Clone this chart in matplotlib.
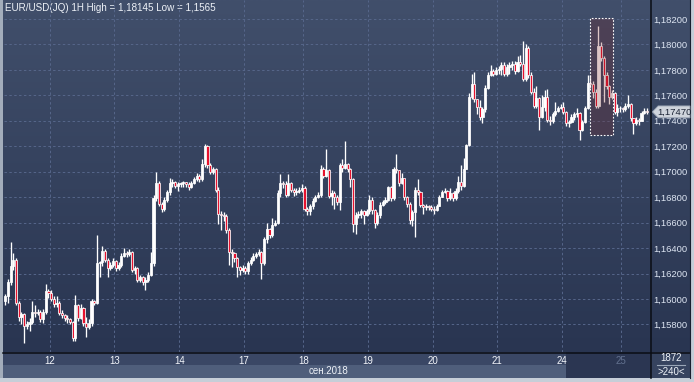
import numpy as np
import matplotlib
matplotlib.use('Agg')
import matplotlib.pyplot as plt
from matplotlib.patches import Rectangle, Polygon
import matplotlib.transforms as mtransforms

plt.rcParams['font.family'] = ['Liberation Sans', 'DejaVu Sans']

# ---------------- data ----------------
title = "EUR/USD(JQ) 1H High = 1,18145 Low = 1,1565"
first_open = 1.1598
close = [
    1.1602, 1.1613, 1.1626, 1.1631, 1.1597, 1.1586, 1.1588, 1.1579, 1.1580, 1.1582,
    1.1590, 1.1589, 1.1590, 1.1584, 1.1590, 1.1606, 1.1605, 1.1600, 1.1596, 1.1597,
    1.1589, 1.1587, 1.1585, 1.1584, 1.1582, 1.1569, 1.1595, 1.1585, 1.1593, 1.1581,
    1.1578, 1.1581, 1.1598, 1.1597, 1.1628, 1.1629, 1.1638, 1.1631, 1.1624, 1.1627,
    1.1630, 1.1624, 1.1627, 1.1634, 1.1636, 1.1635, 1.1637, 1.1623, 1.1624, 1.1615,
    1.1617, 1.1613, 1.1615, 1.1619, 1.1628, 1.1679, 1.1691, 1.1675, 1.1671, 1.1678,
    1.1684, 1.1691, 1.1692, 1.1689, 1.1690, 1.1691, 1.1692, 1.1690, 1.1688, 1.1691,
    1.1694, 1.1697, 1.1694, 1.1706, 1.1720, 1.1705, 1.1700, 1.1702, 1.1686, 1.1667,
    1.1666, 1.1665, 1.1654, 1.1637, 1.1636, 1.1632, 1.1625, 1.1623, 1.1624, 1.1622,
    1.1628, 1.1631, 1.1634, 1.1635, 1.1637, 1.1628, 1.1647, 1.1655, 1.1650, 1.1658,
    1.1660, 1.1683, 1.1691, 1.1690, 1.1682, 1.1691, 1.1686, 1.1684, 1.1685, 1.1686,
    1.1687, 1.1671, 1.1669, 1.1673, 1.1677, 1.1680, 1.1682, 1.1702, 1.1697, 1.1701,
    1.1681, 1.1683, 1.1680, 1.1676, 1.1705, 1.1703, 1.1706, 1.1702, 1.1694, 1.1659,
    1.1666, 1.1667, 1.1669, 1.1666, 1.1669, 1.1678, 1.1670, 1.1660, 1.1666, 1.1674,
    1.1676, 1.1678, 1.1688, 1.1679, 1.1702, 1.1701, 1.1691, 1.1695, 1.1680, 1.1675,
    1.1662, 1.1668, 1.1686, 1.1684, 1.1674, 1.1672, 1.1673, 1.1672, 1.1671, 1.1670,
    1.1673, 1.1680, 1.1684, 1.1685, 1.1679, 1.1683, 1.1679, 1.1685, 1.1692, 1.1689,
    1.1702, 1.1721, 1.1759, 1.1769, 1.1757, 1.1751, 1.1743, 1.1749, 1.1766, 1.1776,
    1.1779, 1.1777, 1.1780, 1.1781, 1.1784, 1.1777, 1.1782, 1.1784, 1.1785, 1.1779,
    1.1786, 1.1785, 1.1773, 1.1797, 1.1776, 1.1763, 1.1752, 1.1758, 1.1743, 1.1751,
    1.1759, 1.1741, 1.1740, 1.1745, 1.1748, 1.1750, 1.1751, 1.1747, 1.1738, 1.1739,
    1.1743, 1.1745, 1.1746, 1.1733, 1.1739, 1.1750, 1.1770, 1.1769, 1.1763, 1.1752,
    1.1799, 1.1789, 1.1776, 1.1767, 1.1759, 1.1762, 1.1747, 1.1750, 1.1750, 1.1749,
    1.1752, 1.1753, 1.1742, 1.1738, 1.1741, 1.1740, 1.1746, 1.1748, 1.1747,
]
high = [
    1.1604, 1.1616, 1.1645, 1.1636, 1.1632, 1.1598, 1.1590, 1.1589, 1.1583, 1.1585,
    1.1598, 1.1595, 1.1592, 1.1591, 1.1592, 1.1612, 1.1608, 1.1607, 1.1602, 1.1602,
    1.1598, 1.1591, 1.1588, 1.1587, 1.1585, 1.1583, 1.1603, 1.1596, 1.1596, 1.1594,
    1.1586, 1.1584, 1.1600, 1.1599, 1.1650, 1.1630, 1.1642, 1.1639, 1.1632, 1.1629,
    1.1632, 1.1631, 1.1629, 1.1636, 1.1640, 1.1638, 1.1639, 1.1638, 1.1626, 1.1625,
    1.1619, 1.1618, 1.1617, 1.1621, 1.1637, 1.1682, 1.1700, 1.1693, 1.1676, 1.1680,
    1.1686, 1.1695, 1.1694, 1.1693, 1.1692, 1.1692, 1.1693, 1.1692, 1.1692, 1.1693,
    1.1696, 1.1699, 1.1698, 1.1710, 1.1722, 1.1721, 1.1707, 1.1704, 1.1703, 1.1688,
    1.1669, 1.1668, 1.1667, 1.1656, 1.1639, 1.1637, 1.1633, 1.1626, 1.1627, 1.1626,
    1.1630, 1.1633, 1.1636, 1.1637, 1.1639, 1.1638, 1.1649, 1.1660, 1.1656, 1.1664,
    1.1662, 1.1686, 1.1698, 1.1693, 1.1693, 1.1698, 1.1692, 1.1687, 1.1687, 1.1688,
    1.1690, 1.1689, 1.1672, 1.1675, 1.1679, 1.1682, 1.1684, 1.1705, 1.1704, 1.1718,
    1.1702, 1.1686, 1.1685, 1.1682, 1.1707, 1.1710, 1.1724, 1.1707, 1.1703, 1.1695,
    1.1668, 1.1669, 1.1671, 1.1670, 1.1671, 1.1682, 1.1680, 1.1671, 1.1668, 1.1676,
    1.1678, 1.1680, 1.1689, 1.1689, 1.1704, 1.1714, 1.1700, 1.1699, 1.1694, 1.1681,
    1.1676, 1.1670, 1.1688, 1.1694, 1.1685, 1.1675, 1.1675, 1.1674, 1.1674, 1.1673,
    1.1675, 1.1682, 1.1686, 1.1687, 1.1686, 1.1687, 1.1684, 1.1687, 1.1697, 1.1705,
    1.1711, 1.1722, 1.1762, 1.1777, 1.1778, 1.1757, 1.1756, 1.1751, 1.1768, 1.1778,
    1.1784, 1.1781, 1.1782, 1.1783, 1.1786, 1.1786, 1.1785, 1.1786, 1.1787, 1.1787,
    1.1791, 1.1792, 1.1803, 1.1800, 1.1799, 1.1778, 1.1766, 1.1767, 1.1759, 1.1760,
    1.1764, 1.1765, 1.1744, 1.1747, 1.1755, 1.1752, 1.1753, 1.1755, 1.1748, 1.1741,
    1.1745, 1.1747, 1.1750, 1.1747, 1.1741, 1.1752, 1.1776, 1.1776, 1.1771, 1.1765,
    1.18145, 1.1802, 1.1791, 1.1778, 1.1768, 1.1764, 1.1763, 1.1753, 1.1752, 1.1751,
    1.1754, 1.1760, 1.1754, 1.1742, 1.1743, 1.1742, 1.1748, 1.1750, 1.1750,
]
low = [
    1.1595, 1.1597, 1.1611, 1.1623, 1.1595, 1.1583, 1.1580, 1.1565, 1.1576, 1.1575,
    1.1580, 1.1586, 1.1587, 1.1582, 1.1581, 1.1588, 1.1601, 1.1598, 1.1594, 1.1594,
    1.1587, 1.1585, 1.1583, 1.1581, 1.1580, 1.1567, 1.1567, 1.1583, 1.1584, 1.1579,
    1.1570, 1.1576, 1.1579, 1.1595, 1.1596, 1.1617, 1.1626, 1.1629, 1.1617, 1.1623,
    1.1625, 1.1622, 1.1623, 1.1625, 1.1633, 1.1633, 1.1634, 1.1621, 1.1620, 1.1613,
    1.1613, 1.1611, 1.1607, 1.1613, 1.1618, 1.1626, 1.1677, 1.1673, 1.1668, 1.1669,
    1.1676, 1.1682, 1.1688, 1.1687, 1.1685, 1.1688, 1.1688, 1.1688, 1.1686, 1.1687,
    1.1690, 1.1693, 1.1692, 1.1693, 1.1704, 1.1703, 1.1698, 1.1698, 1.1684, 1.1659,
    1.1654, 1.1661, 1.1652, 1.1627, 1.1625, 1.1629, 1.1617, 1.1619, 1.1621, 1.1620,
    1.1620, 1.1627, 1.1630, 1.1632, 1.1634, 1.1616, 1.1627, 1.1644, 1.1648, 1.1649,
    1.1657, 1.1659, 1.1680, 1.1687, 1.1680, 1.1681, 1.1684, 1.1681, 1.1682, 1.1683,
    1.1684, 1.1669, 1.1666, 1.1666, 1.1671, 1.1676, 1.1679, 1.1680, 1.1695, 1.1696,
    1.1679, 1.1674, 1.1671, 1.1674, 1.1670, 1.1700, 1.1702, 1.1700, 1.1688, 1.1653,
    1.1651, 1.1664, 1.1664, 1.1659, 1.1665, 1.1667, 1.1667, 1.1656, 1.1658, 1.1664,
    1.1673, 1.1675, 1.1677, 1.1677, 1.1678, 1.1699, 1.1689, 1.1690, 1.1678, 1.1672,
    1.1659, 1.1657, 1.1649, 1.1682, 1.1672, 1.1667, 1.1670, 1.1670, 1.1669, 1.1667,
    1.1669, 1.1673, 1.1680, 1.1683, 1.1677, 1.1678, 1.1677, 1.1678, 1.1683, 1.1686,
    1.1688, 1.1702, 1.1720, 1.1757, 1.1755, 1.1745, 1.1741, 1.1738, 1.1747, 1.1765,
    1.1775, 1.1775, 1.1776, 1.1777, 1.1776, 1.1775, 1.1775, 1.1777, 1.1780, 1.1777,
    1.1778, 1.1783, 1.1771, 1.1771, 1.1774, 1.1761, 1.1750, 1.1750, 1.1733, 1.1742,
    1.1748, 1.1739, 1.1737, 1.1738, 1.1744, 1.1747, 1.1749, 1.1745, 1.1736, 1.1735,
    1.1738, 1.1741, 1.1743, 1.1725, 1.1732, 1.1738, 1.1749, 1.1766, 1.1758, 1.1750,
    1.1750, 1.1787, 1.1755, 1.1765, 1.1753, 1.1757, 1.1745, 1.1744, 1.1747, 1.1747,
    1.1748, 1.1750, 1.1740, 1.1730, 1.1737, 1.1737, 1.1740, 1.1745, 1.1745,
]
day_labels = ['12', '13', '14', '17', '18', '19', '20', '21', '24', '25']
day_first_bar = [17, 41, 65, 89, 111, 135, 159, 183, 207, 229]
month_label = 'сен.2018'
price_ticks = [1.158, 1.160, 1.162, 1.164, 1.166, 1.168, 1.170,
               1.172, 1.174, 1.176, 1.178, 1.180, 1.182]
bars_total = '1872'
bars_visible = '>240<'
highlight_bars = (217, 225)
highlight_range = (1.17288, 1.18208)

# ---------------- styling ----------------
W, H = 694, 382
BG_TOP = np.array([65, 79, 107]) / 255
BG_BOT = np.array([41, 53, 81]) / 255
RED = '#e6122e'
GRID = '#56668a'
TXT = '#dde5f2'

fig = plt.figure(figsize=(W / 100, H / 100), dpi=100)


def px_rect(x0, y0, x1, y1):
    return [x0 / W, 1 - y1 / H, (x1 - x0) / W, (y1 - y0) / H]


# background / chrome axes in pixel coordinates
bg = fig.add_axes([0, 0, 1, 1], zorder=0)
bg.set_xlim(0, W)
bg.set_ylim(H, 0)
bg.axis('off')
t = np.linspace(0, 1, 256)[:, None, None]
grad = BG_TOP[None, None, :] * (1 - t) + BG_BOT[None, None, :] * t
bg.imshow(grad, extent=(0, 690, 352, 0), aspect='auto', interpolation='bilinear', zorder=0)
bg.set_xlim(0, W)
bg.set_ylim(H, 0)


def prect(x0, y0, x1, y1, color, z=1):
    bg.add_patch(Rectangle((x0, y0), x1 - x0, y1 - y0, facecolor=color,
                           edgecolor='none', zorder=z))


prect(3, 352, 651, 365, '#3a4765')
prect(3, 365, 566, 378, '#4f5e7b')
prect(566, 352, 651, 378, '#2b3652')
prect(651, 352, 690, 378, '#36435f')
prect(0, 0, 3, 382, '#a3adbb', 3)
prect(0, 378, 694, 382, '#c6ced8', 3)
prect(690, 0, 694, 382, '#c6ced8', 3)
bg.plot([3, 690], [352.5, 352.5], color='#0a0d14', lw=1.1, zorder=4)
bg.plot([651, 651], [0, 378], color='#0a0d14', lw=1.1, zorder=4)
bg.plot([690, 690], [0, 378], color='#1a2030', lw=0.8, zorder=4)
bg.plot([657, 685], [364.5, 364.5], color='#9aa6b8', lw=0.8, zorder=4)

bg.text(5, 8, title, color='#eef2f8', fontsize=7.1, va='center', ha='left', zorder=5)
bg.text(348, 371.5, month_label, color='#eef2f8', fontsize=7, va='center', ha='right', zorder=5)
bg.text(671, 358, bars_total, color='#eef2f8', fontsize=7, va='center', ha='center', zorder=5)
bg.text(671, 372, bars_visible, color='#eef2f8', fontsize=7, va='center', ha='center', zorder=5)

# main chart axes
ax = fig.add_axes(px_rect(4, 0, 651, 352), zorder=1)
ax.patch.set_alpha(0)
y_top = 1.182 + 19 / 12725
y_bot = 1.182 - 333 / 12725
ax.set_ylim(y_bot, y_top)
n = len(close)
ax.set_xlim(-0.48, 239.5)

c = np.array(close)
hi = np.array(high)
lo = np.array(low)
o = np.concatenate([[first_open], c[:-1]])
x = np.arange(n)

ax.vlines(x, lo, hi, color='white', lw=0.95, zorder=3)
body_h = np.maximum(np.abs(c - o), 0.00004)
colors = np.where(c < o, RED, 'white')
ax.bar(x, body_h, bottom=np.minimum(o, c), width=0.8, color=colors,
       edgecolor='white', linewidth=0.55, zorder=3)

# highlighted zone
hx0 = highlight_bars[0]
hx1 = highlight_bars[1] + 0.5
ax.add_patch(Rectangle((hx0, highlight_range[0]), hx1 - hx0,
                       highlight_range[1] - highlight_range[0],
                       facecolor=(0.47, 0.12, 0.12, 0.25), edgecolor='white',
                       linestyle=(0, (1.5, 1.5)), linewidth=0.8, zorder=5))

# grid and ticks
ax.set_yticks(price_ticks)
ax.set_yticklabels([f"{v:.5f}".replace('.', ',') for v in price_ticks])
ax.yaxis.tick_right()
ax.tick_params(axis='y', length=0, pad=2, labelsize=6.8, labelcolor=TXT)
ax.set_xticks(np.array(day_first_bar) - 0.5)
ax.set_xticklabels(day_labels)
ax.tick_params(axis='x', length=0, pad=3.2, labelsize=7, labelcolor='#f2f5fa')
ax.get_xticklabels()[-1].set_color('#62718f')
ax.grid(True, color=GRID, linestyle=(0, (2.5, 2.5)), linewidth=0.7)
ax.set_axisbelow(True)
for s in ax.spines.values():
    s.set_visible(False)

# current price marker
last = c[-1]
hh = (y_top - y_bot) / 352 * 6
trans = mtransforms.blended_transform_factory(ax.transAxes, ax.transData)
ax.add_patch(Polygon([(1.002, last), (1.011, last + hh), (1.0603, last + hh),
                      (1.0603, last - hh), (1.011, last - hh)], closed=True,
                     transform=trans, facecolor='#cfd4dc', edgecolor='#8f9aab',
                     linewidth=0.6, clip_on=False, zorder=8))
ax.text(1.036, last, f"{last:.5f}".replace('.', ','), transform=trans,
        ha='center', va='center', fontsize=6.8, color='#1d2536', zorder=9,
        clip_on=False)

fig.savefig('out.png', dpi=100)
